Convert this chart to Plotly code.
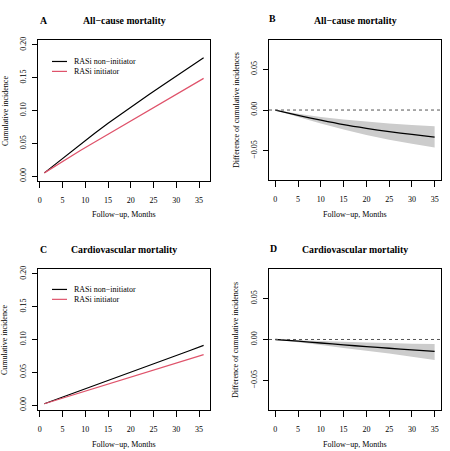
import plotly.graph_objects as go

# panels A / C: cumulative incidence by month
months = [1, 3, 6, 9, 12, 15, 18, 21, 24, 27, 30, 33, 36]
allcause_non = [0.005, 0.016, 0.0325, 0.049, 0.065, 0.0805, 0.0955, 0.110, 0.1245, 0.1385, 0.1525, 0.1665, 0.1805]
allcause_init = [0.005, 0.0139, 0.0268, 0.0394, 0.0518, 0.0641, 0.0763, 0.0885, 0.1006, 0.1127, 0.1248, 0.1369, 0.149]
cv_non = [0.002, 0.007, 0.0146, 0.0222, 0.0298, 0.0374, 0.045, 0.0526, 0.0603, 0.068, 0.0756, 0.0833, 0.091]
cv_init = [0.002, 0.0063, 0.0127, 0.0191, 0.0255, 0.0319, 0.0384, 0.0448, 0.0512, 0.0577, 0.0641, 0.0706, 0.077]

# panels B / D: difference of cumulative incidences with band
diff_months = [0, 5, 10, 15, 20, 25, 30, 35]
allcause_diff = [0, -0.0065, -0.0125, -0.018, -0.0225, -0.0265, -0.030, -0.0333]
allcause_upper = [0, -0.0045, -0.0085, -0.0115, -0.014, -0.0165, -0.0185, -0.020]
allcause_lower = [0, -0.0085, -0.0165, -0.024, -0.0305, -0.0365, -0.0415, -0.046]
cv_diff = [0, -0.002, -0.0043, -0.0066, -0.0087, -0.0107, -0.0126, -0.0144]
cv_upper = [0, -0.0008, -0.0017, -0.0027, -0.0036, -0.0044, -0.0051, -0.0056]
cv_lower = [0, -0.0033, -0.0068, -0.0103, -0.0137, -0.017, -0.021, -0.025]

W, H = 450, 451
FONT = "Liberation Serif"
PINK = "#DF536B"
BASE = 8      # base text size (ticks, axis titles, legend)
MAIN = 9.8    # bold panel titles


def px(x):
    return x / W


def py(y):
    return 1 - y / H


fig = go.Figure()

# incidence panels
for k, (non, init) in enumerate([(allcause_non, allcause_init), (cv_non, cv_init)]):
    ax = ["x", "x3"][k]
    ay = ["y", "y3"][k]
    fig.add_trace(go.Scatter(x=months, y=non, mode="lines", xaxis=ax, yaxis=ay,
                             line=dict(color="black", width=1.2), showlegend=False))
    fig.add_trace(go.Scatter(x=months, y=init, mode="lines", xaxis=ax, yaxis=ay,
                             line=dict(color=PINK, width=1.2), showlegend=False))

# difference panels
for k, (d, up, lo) in enumerate([(allcause_diff, allcause_upper, allcause_lower),
                                 (cv_diff, cv_upper, cv_lower)]):
    ax = ["x2", "x4"][k]
    ay = ["y2", "y4"][k]
    fig.add_trace(go.Scatter(x=diff_months + diff_months[::-1], y=up + lo[::-1],
                             fill="toself", fillcolor="#CCCCCC", mode="none",
                             xaxis=ax, yaxis=ay, showlegend=False))
    fig.add_trace(go.Scatter(x=diff_months, y=d, mode="lines", xaxis=ax, yaxis=ay,
                             line=dict(color="black", width=1.3, shape="spline", smoothing=0.6),
                             showlegend=False))
    fig.add_shape(type="line", xref=ax + " domain", yref=ay, x0=0, x1=1, y0=0, y1=0,
                  line=dict(color="#555555", width=1, dash="3px,3px"))

tickfont = dict(family=FONT, size=BASE, color="black")
axis_common = dict(showline=True, mirror=True, linecolor="black", linewidth=1,
                   ticks="outside", tickcolor="black", tickwidth=1,
                   showgrid=False, zeroline=False, tickfont=tickfont)

x_ticks = [0, 5, 10, 15, 20, 25, 30, 35]
inc_ticks = [0, 0.05, 0.10, 0.15, 0.20]
inc_text = ["0.00", "0.05", "0.10", "0.15", "0.20"]
diff_ticks = [-0.05, 0, 0.05]
diff_text = ["\u22120.05", "0.00", "0.05"]

# plot boxes in pixels: left, right, top, bottom
boxes = {
    "": (38, 210, 37, 180),
    "2": (269, 441, 37, 179),
    "3": (38, 210, 268, 411),
    "4": (269, 441, 268, 411),
}
for s, (l, r, t, b) in boxes.items():
    inc = s in ("", "3")
    fig.layout["xaxis" + s] = dict(axis_common, domain=[px(l), px(r)],
                                   range=[-0.4, 37.4] if inc else [-1.4, 36.4],
                                   tickvals=x_ticks, anchor="y" + s,
                                   ticklen=6, ticklabelstandoff=5)
    fig.layout["yaxis" + s] = dict(axis_common, domain=[py(b), py(t)],
                                   range=[-0.008, 0.208] if inc else [-0.0864, 0.0864],
                                   tickvals=inc_ticks if inc else diff_ticks,
                                   ticktext=inc_text if inc else diff_text,
                                   tickangle=-90, anchor="x" + s,
                                   ticklen=5, ticklabelstandoff=3)

ann = []


def text(x, y, s, size=BASE, bold=False, angle=0, anchor="center"):
    ann.append(dict(x=px(x), y=py(y), xref="paper", yref="paper", text=f"<b>{s}</b>" if bold else s,
                    showarrow=False, textangle=angle, xanchor=anchor, yanchor="middle",
                    borderpad=0, font=dict(family=FONT, size=size, color="black")))


# panel titles
text(43, 18, "A", MAIN, True)
text(124, 18, "All\u2212cause mortality", MAIN, True)
text(272, 16, "B", MAIN, True)
text(355, 18, "All\u2212cause mortality", MAIN, True)
text(43, 249, "C", MAIN, True)
text(124, 249, "Cardiovascular mortality", MAIN, True)
text(273, 248, "D", MAIN, True)
text(355, 249, "Cardiovascular mortality", MAIN, True)

# axis titles
for xc, yb in [(124, 213), (355, 213), (124, 445), (355, 445)]:
    text(xc, yb, "Follow\u2212up, Months")
text(5, 109, "Cumulative incidence", angle=-90)
text(5, 340, "Cumulative incidence", angle=-90)
text(236, 108, "Difference of cumulative incidences", angle=-90)
text(236, 340, "Difference of cumulative incidences", angle=-90)

# legends (key lines + labels)
for y0 in (59, 289):
    for j, (lab, col) in enumerate([("RASi non\u2212initiator", "black"), ("RASi initiator", PINK)]):
        yy = y0 + 10 * j
        fig.add_shape(type="line", xref="paper", yref="paper", x0=px(52), x1=px(67),
                      y0=py(yy), y1=py(yy), line=dict(color=col, width=1.2))
        text(73, yy, lab, anchor="left")

fig.update_layout(width=W, height=H, margin=dict(l=0, r=0, t=0, b=0),
                  paper_bgcolor="white", plot_bgcolor="white",
                  showlegend=False, annotations=ann)

fig.write_html("out.html", config={"displayModeBar": False},
               post_script="document.body.style.margin='0';")
